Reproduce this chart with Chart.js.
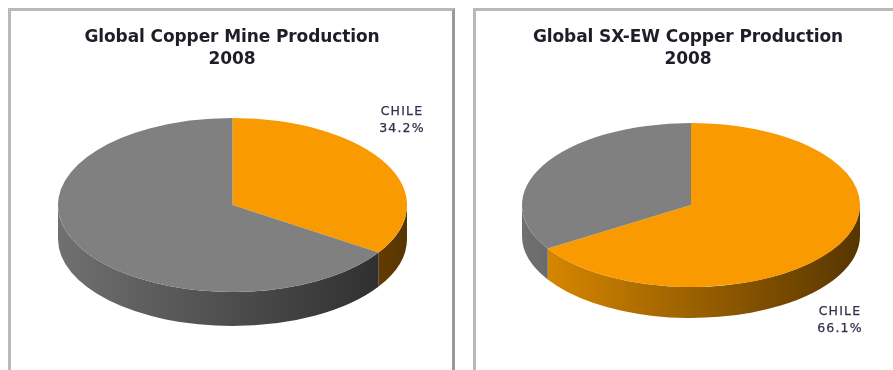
<!DOCTYPE html>
<html>
<head>
<meta charset="utf-8">
<script src="https://cdn.jsdelivr.net/npm/chart.js@4/dist/chart.umd.min.js"></script>
<style>
  html, body { margin: 0; padding: 0; background: #ffffff; overflow: hidden; }
  body { width: 893px; height: 370px; position: relative; }
  .panel { position: absolute; top: 8px; height: 400px; box-sizing: border-box;
           border: 3px solid #b9b9b9; background: #ffffff; }
  .panel.left { left: 8px; width: 447px; border-right-color: #9a9a9a; }
  .panel.right { left: 473px; width: 440px; }
  canvas { position: absolute; top: 0; }
  .title { position: absolute; width: 400px; text-align: center; font-family: "DejaVu Sans", sans-serif;
           font-weight: 700; font-size: 17px; line-height: 22px; color: #1e1e28; letter-spacing: -0.1px; }
  .label { position: absolute; width: 80px; text-align: center; font-family: "DejaVu Sans", sans-serif;
           font-size: 12.5px; line-height: 17px; color: #30304a; letter-spacing: 1.2px;
           -webkit-text-stroke: 0.25px #30304a; }
</style>
</head>
<body>
<div class="panel left"></div>
<div class="panel right"></div>
<canvas id="mine" width="446" height="370" style="left:0"></canvas>
<canvas id="sxew" width="447" height="370" style="left:446px"></canvas>
<div class="title" id="t1" style="left:32px; top:25px"></div>
<div class="title" id="t2" style="left:488px; top:25px"></div>
<div class="label" id="l1" style="left:362px; top:102px"></div>
<div class="label" id="l2" style="left:800px; top:302px"></div>
<script>
// Shares of world copper output, 2008 (percent)
const categories = ['CHILE', 'OTHERS'];
const mineShare = [34.2, 65.8];
const sxewShare = [66.1, 33.9];
const chartTitles = [['Global Copper Mine Production', '2008'], ['Global SX-EW Copper Production', '2008']];

const topColors = ['#f89a00', '#808080'];
const sideColors = [['#e08d00', '#573500'], ['#707070', '#2a2a2a']];

// Tilts the pie into an ellipse and paints the rim below the front half of each slice.
const pie3d = {
  id: 'pie3d',
  beforeDatasetsDraw(chart, args, opts) {
    const ctx = chart.ctx;
    const meta = chart.getDatasetMeta(0);
    const first = meta.data[0];
    const cx = first.x, cy = first.y, r = first.outerRadius;
    const ry = opts.ry, ty = opts.centerY, depth = opts.depth;
    meta.data.forEach((arc, i) => {
      const a1 = Math.max(arc.startAngle, 0);
      const a2 = Math.min(arc.endAngle, Math.PI);
      if (a2 <= a1) return;
      const g = ctx.createLinearGradient(cx - r, 0, cx + r, 0);
      g.addColorStop(0, sideColors[i][0]);
      g.addColorStop(1, sideColors[i][1]);
      ctx.save();
      ctx.beginPath();
      ctx.ellipse(cx, ty, r, ry, 0, a1, a2, false);
      ctx.lineTo(cx + r * Math.cos(a2), ty + ry * Math.sin(a2) + depth);
      ctx.ellipse(cx, ty + depth, r, ry, 0, a2, a1, true);
      ctx.closePath();
      ctx.fillStyle = g;
      ctx.fill();
      ctx.restore();
    });
    ctx.save();
    ctx.translate(0, ty);
    ctx.scale(1, ry / r);
    ctx.translate(0, -cy);
  },
  afterDatasetsDraw(chart) {
    chart.ctx.restore();
  }
};

function makePie(id, values, pad, tilt) {
  return new Chart(document.getElementById(id), {
    type: 'pie',
    data: {
      labels: categories,
      datasets: [{ data: values, backgroundColor: topColors, borderWidth: 0 }]
    },
    options: {
      responsive: false,
      animation: false,
      events: [],
      layout: { padding: pad },
      plugins: {
        legend: { display: false },
        title: { display: false },
        tooltip: { enabled: false },
        pie3d: tilt
      }
    },
    plugins: [pie3d]
  });
}

makePie('mine', mineShare, { left: 58, right: 39, top: 10, bottom: 10 }, { ry: 87, centerY: 205, depth: 34 });
makePie('sxew', sxewShare, { left: 76, right: 33, top: 10, bottom: 10 }, { ry: 82, centerY: 205, depth: 31 });

document.getElementById('t1').innerHTML = chartTitles[0].join('<br>');
document.getElementById('t2').innerHTML = chartTitles[1].join('<br>');
document.getElementById('l1').innerHTML = categories[0] + '<br>' + mineShare[0].toFixed(1) + '%';
document.getElementById('l2').innerHTML = categories[0] + '<br>' + sxewShare[0].toFixed(1) + '%';
</script>
</body>
</html>
